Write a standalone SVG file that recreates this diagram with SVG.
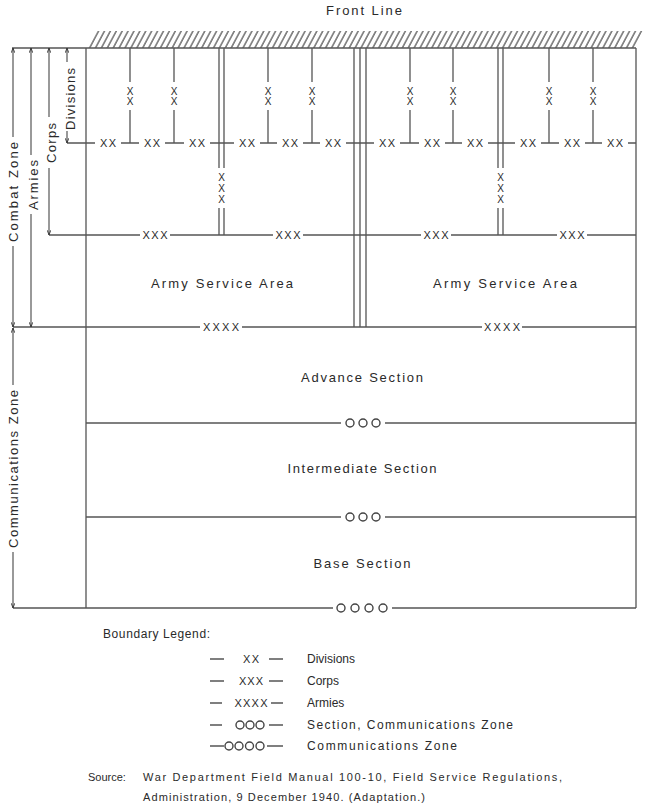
<svg xmlns="http://www.w3.org/2000/svg" width="650" height="806" viewBox="0 0 650 806">
<defs>
<style>
.ln{stroke:#555;stroke-width:1.3;fill:none}
.t{font-family:"Liberation Sans",Arial,sans-serif;fill:#2a2a2a;font-size:13px}
.m{text-anchor:middle}
.x{font-family:"Liberation Sans",Arial,sans-serif;fill:#2a2a2a;font-size:11px;text-anchor:middle}
.vx{font-family:"Liberation Sans",Arial,sans-serif;fill:#2a2a2a;font-size:10px;text-anchor:middle}
.o{fill:none;stroke:#444;stroke-width:1.4}
.ar{stroke:#555;stroke-width:1.2;fill:none;marker-end:url(#ah)}
.lg{font-size:12px}
.src{font-size:11px}
</style>
<marker id="ah" viewBox="0 0 10 8" refX="9.5" refY="4" markerWidth="5" markerHeight="4" markerUnits="userSpaceOnUse" orient="auto"><path d="M0,0.5 L9.5,4 L0,7.5" fill="none" stroke="#333" stroke-width="1.8"/></marker>
<pattern id="hatch" patternUnits="userSpaceOnUse" width="5.9" height="20" patternTransform="skewX(-28)"><line x1="3" y1="-2" x2="3" y2="22" stroke="#444" stroke-width="1.3"/></pattern>
</defs>

<g id="front-line">
<polygon points="86,48 636,48 645,31 95,31" fill="url(#hatch)"/>
<text class="t m" x="364" y="15" textLength="76" lengthAdjust="spacing">Front Line</text>
</g>

<g id="connectors">
<!-- front line base and frame -->
<path class="ln" d="M12,48 H636 M86,48 V608 M636,48 V608"/>
<!-- division lateral line y=143 -->
<path class="ln" d="M67,143 H95 M121,143 H139 M165,143 H184 M210,143 H234 M260,143 H277 M303,143 H320 M346,143 H374 M400,143 H419 M445,143 H462 M488,143 H515 M541,143 H559 M585,143 H602 M628,143 H636"/>
<!-- division verticals -->
<path class="ln" d="M130,48 V82 M130,110 V143 M174,48 V82 M174,110 V143 M268,48 V82 M268,110 V143 M312,48 V82 M312,110 V143 M410,48 V82 M410,110 V143 M453,48 V82 M453,110 V143 M549,48 V82 M549,110 V143 M593,48 V82 M593,110 V143"/>
<!-- corps double lines -->
<path class="ln" d="M219,48 V168 M224,48 V168 M219,208 V235 M224,208 V235 M498,48 V168 M503,48 V168 M498,208 V235 M503,208 V235"/>
<!-- army triple line -->
<path class="ln" d="M354,48 V327 M360,48 V327 M366,48 V327"/>
<!-- corps lateral y=235 -->
<path class="ln" d="M49,235 H140 M170,235 H273 M303,235 H421 M451,235 H557 M587,235 H636"/>
<!-- army rear y=327 -->
<path class="ln" d="M13,327 H200 M242,327 H482 M522,327 H636"/>
<!-- section boundaries -->
<path class="ln" d="M86,423 H341 M385,423 H636 M86,517 H341 M385,517 H636 M13,608 H333 M392,608 H636"/>
</g>

<g id="boundary-labels">
<text class="x" y="147" x="108" textLength="16">XX</text>
<text class="x" y="147" x="152" textLength="16">XX</text>
<text class="x" y="147" x="197" textLength="16">XX</text>
<text class="x" y="147" x="247" textLength="16">XX</text>
<text class="x" y="147" x="290" textLength="16">XX</text>
<text class="x" y="147" x="333" textLength="16">XX</text>
<text class="x" y="147" x="387" textLength="16">XX</text>
<text class="x" y="147" x="432" textLength="16">XX</text>
<text class="x" y="147" x="475" textLength="16">XX</text>
<text class="x" y="147" x="528" textLength="16">XX</text>
<text class="x" y="147" x="572" textLength="16">XX</text>
<text class="x" y="147" x="615" textLength="16">XX</text>
<g class="vx">
<text x="130" y="94.5">X</text><text x="130" y="104.5">X</text>
<text x="174" y="94.5">X</text><text x="174" y="104.5">X</text>
<text x="268" y="94.5">X</text><text x="268" y="104.5">X</text>
<text x="312" y="94.5">X</text><text x="312" y="104.5">X</text>
<text x="410" y="94.5">X</text><text x="410" y="104.5">X</text>
<text x="453" y="94.5">X</text><text x="453" y="104.5">X</text>
<text x="549" y="94.5">X</text><text x="549" y="104.5">X</text>
<text x="593" y="94.5">X</text><text x="593" y="104.5">X</text>
<text x="221.5" y="180.5">X</text><text x="221.5" y="191.5">X</text><text x="221.5" y="202.5">X</text>
<text x="500.5" y="180.5">X</text><text x="500.5" y="191.5">X</text><text x="500.5" y="202.5">X</text>
</g>
<text class="x" y="239" x="155" textLength="25">XXX</text>
<text class="x" y="239" x="288" textLength="25">XXX</text>
<text class="x" y="239" x="436" textLength="25">XXX</text>
<text class="x" y="239" x="572" textLength="25">XXX</text>
<text class="x" y="331" x="221" textLength="36">XXXX</text>
<text class="x" y="331" x="502" textLength="36">XXXX</text>
<g class="o">
<circle cx="350" cy="423" r="4"/><circle cx="363" cy="423" r="4"/><circle cx="376" cy="423" r="4"/>
<circle cx="350" cy="517" r="4"/><circle cx="363" cy="517" r="4"/><circle cx="376" cy="517" r="4"/>
<circle cx="341" cy="608" r="4"/><circle cx="355" cy="608" r="4"/><circle cx="369" cy="608" r="4"/><circle cx="383" cy="608" r="4"/>
</g>
</g>

<g id="dim-divisions">
<path class="ar" d="M67,62 V48"/>
<path class="ar" d="M67,131 V143"/>
<text class="t m" transform="translate(74.5,99) rotate(-90)" textLength="62" lengthAdjust="spacing">Divisions</text>
</g>
<g id="dim-corps">
<path class="ar" d="M49,117 V48"/>
<path class="ar" d="M49,168 V235"/>
<text class="t m" transform="translate(55.5,143) rotate(-90)" textLength="40" lengthAdjust="spacing">Corps</text>
</g>
<g id="dim-armies">
<path class="ar" d="M31,155 V48"/>
<path class="ar" d="M31,214 V327"/>
<text class="t m" transform="translate(37.5,185) rotate(-90)" textLength="50" lengthAdjust="spacing">Armies</text>
</g>
<g id="dim-combat-zone">
<path class="ar" d="M13,137 V48"/>
<path class="ar" d="M13,246 V327"/>
<text class="t m" transform="translate(17.5,192) rotate(-90)" textLength="100" lengthAdjust="spacing">Combat Zone</text>
</g>
<g id="dim-communications-zone">
<path class="ar" d="M13,385 V328"/>
<path class="ar" d="M13,552 V608"/>
<text class="t m" transform="translate(17.5,469) rotate(-90)" textLength="158" lengthAdjust="spacing">Communications Zone</text>
</g>

<g id="army-service-area-left"><text class="t m" x="222" y="288" textLength="142" lengthAdjust="spacing">Army Service Area</text></g>
<g id="army-service-area-right"><text class="t m" x="505" y="288" textLength="144" lengthAdjust="spacing">Army Service Area</text></g>
<g id="advance-section"><text class="t m" x="362" y="382" textLength="122" lengthAdjust="spacing">Advance Section</text></g>
<g id="intermediate-section"><text class="t m" x="362" y="473" textLength="149" lengthAdjust="spacing">Intermediate Section</text></g>
<g id="base-section"><text class="t m" x="362" y="568" textLength="97" lengthAdjust="spacing">Base Section</text></g>

<g id="legend">
<text class="t lg" x="103" y="638" textLength="107" lengthAdjust="spacing">Boundary Legend:</text>
<path class="ln" stroke-width="1" d="M210,659 H224 M269,659 H283 M210,681 H224 M269,681 H283 M210,703 H222 M271,703 H283 M210,725 H222 M269,725 H283 M210,746 H224 M267,746 H283"/>
<text class="x" x="251" y="663" textLength="16">XX</text>
<text class="x" x="251" y="685" textLength="24">XXX</text>
<text class="x" x="251" y="707" textLength="33">XXXX</text>
<g class="o">
<circle cx="240" cy="725" r="4"/><circle cx="250" cy="725" r="4"/><circle cx="260" cy="725" r="4"/>
<circle cx="229" cy="746" r="4"/><circle cx="239" cy="746" r="4"/><circle cx="249.5" cy="746" r="4"/><circle cx="260" cy="746" r="4"/>
</g>
<text class="t lg" x="307" y="663">Divisions</text>
<text class="t lg" x="307" y="685">Corps</text>
<text class="t lg" x="307" y="707">Armies</text>
<text class="t lg" x="307" y="729" textLength="206" lengthAdjust="spacing">Section, Communications Zone</text>
<text class="t lg" x="307" y="750" textLength="150" lengthAdjust="spacing">Communications Zone</text>
</g>

<g id="source">
<text class="t src" x="88" y="781">Source:</text>
<text class="t src" x="143" y="781" textLength="419" lengthAdjust="spacing">War Department Field Manual 100-10, Field Service Regulations,</text>
<text class="t src" x="143" y="801" textLength="282" lengthAdjust="spacing">Administration, 9 December 1940. (Adaptation.)</text>
</g>
</svg>
